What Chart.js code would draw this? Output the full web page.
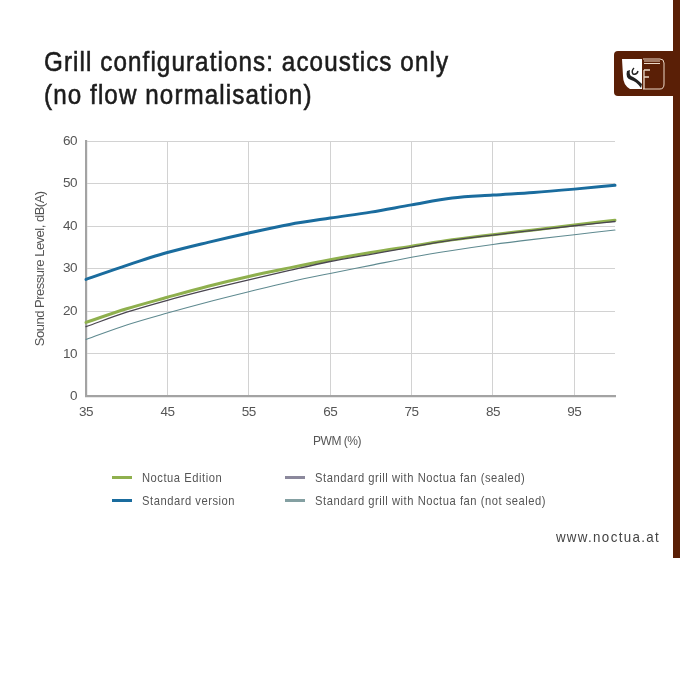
<!DOCTYPE html>
<html>
<head>
<meta charset="utf-8">
<script src="https://cdn.jsdelivr.net/npm/chart.js@4"></script>
<style>
html,body{margin:0;padding:0;background:#fff;width:680px;height:680px;overflow:hidden}
#wrap{position:relative;width:680px;height:680px;font-family:"Liberation Sans",sans-serif}
canvas{position:absolute;left:0;top:0}
#title{position:absolute;left:44px;top:44.5px;font-size:27.5px;line-height:33px;color:#1c1c1c;letter-spacing:1.24px;-webkit-text-stroke:.6px #1c1c1c;white-space:nowrap;transform:scaleX(.88);transform-origin:0 0}
#site{position:absolute;right:20px;top:528px;font-size:15px;line-height:18px;color:#444;letter-spacing:1.5px;transform:scaleX(.89);transform-origin:100% 0}
#bar{position:absolute;left:673px;top:0;width:7px;height:558px;background:#5a1f06}
.lg{position:absolute;font-size:13px;line-height:16px;color:#555;letter-spacing:.62px;white-space:nowrap;transform:scaleX(.86);transform-origin:0 0}
.sw{position:absolute;width:20px;height:2.5px}
svg{position:absolute;left:614px;top:51px}
</style>
</head>
<body>
<div id="wrap">
<canvas id="c" width="680" height="680" style="width:680px;height:680px"></canvas>
<div id="title">Grill configurations: acoustics only<br>(no flow normalisation)</div>
<div id="site">www.noctua.at</div>
<div id="bar"></div>
<svg width="60" height="46" viewBox="0 0 60 46">
<path d="M4 0H60V45H4Q0 45 0 41V4Q0 0 4 0Z" fill="#5a1f06"/>
<path d="M8 8H28V38H16Q9 34 9 25Z" fill="#fff"/>
<path d="M13 20Q11 27 17 29Q22 30 27 37L28 33Q22 27 17 25Q15 23 16 19Z" fill="#222"/>
<path d="M20 17Q17 20 19 23Q23 24 24 20" fill="none" stroke="#222" stroke-width="1.4"/>
<path d="M29 8H46Q50 8 50 12V33Q50 38 46 38H29" fill="none" stroke="#ecd9c8" stroke-width="1"/>
<path d="M30 10H46M30 12.5H46" stroke="#ecd9c8" stroke-width="1"/>
<path d="M30 19H36M30 26H35M30 19V38" fill="none" stroke="#ecd9c8" stroke-width="1.3"/>
</svg>
<div id="legend"></div>
</div>
<script>
const pwm = [35,40,45,50,55,60,65,70,75,80,85,90,95,100];
const xTicks = [35,45,55,65,75,85,95];
const yTicks = [0,10,20,30,40,50,60];
const noctuaEdition = [17.4,20.6,23.3,25.9,28.2,30.2,32.1,33.8,35.3,36.8,38.0,39.1,40.3,41.4];
const standardVersion = [27.5,30.8,33.8,36.2,38.4,40.4,41.9,43.3,45.0,46.6,47.3,47.9,48.7,49.6];
const sealed = [16.4,19.8,22.6,25.1,27.4,29.6,31.7,33.4,35.1,36.7,37.9,39.0,40.1,41.1];
const notSealed = [13.4,16.8,19.6,22.2,24.6,26.9,28.9,30.8,32.7,34.3,35.7,36.9,38.0,39.1];
const seriesNames = ["Noctua Edition","Standard version","Standard grill with Noctua fan (sealed)","Standard grill with Noctua fan (not sealed)"];
const lineColors = ["#8fb04e","#1a6c9e","#4a4650","#5f8a90"];
const legendColors = ["#8fb04e","#1a6c9e","#8b889c","#84a0a2"];
const lineWidths = [3,3,1.3,1.1];
const legendPos = [[112,470],[112,493],[285,470],[285,493]];

const toPts = a => a.map((y,i)=>({x:pwm[i],y}));
const makeDs = (a,i)=>({label:seriesNames[i],data:toPts(a),borderColor:lineColors[i],borderWidth:lineWidths[i],
  pointRadius:0,cubicInterpolationMode:'monotone',borderCapStyle:'round',clip:false});
const fontFam = '"Liberation Sans",sans-serif';
const ds = [makeDs(noctuaEdition,0),makeDs(standardVersion,1),makeDs(sealed,2),makeDs(notSealed,3)];
ds[0].order=3; ds[1].order=2; ds[2].order=1; ds[3].order=0;

// narrows the axis text (no condensed face is installed) and moves the x title left of the plot centre
const axisText = {
  id:'axisText',
  beforeDraw(chart){
    chart.ctx.letterSpacing='-0.5px';
    const sx=chart.scales.x;
    if(!sx._wrapped){
      const orig=sx.drawTitle.bind(sx);
      sx.drawTitle=function(){const c=this.ctx;c.save();c.translate(-13.5,0);orig();c.restore();};
      sx._wrapped=true;
    }
  }
};

new Chart(document.getElementById('c'),{
  type:'line',
  data:{datasets:ds},
  plugins:[axisText],
  options:{
    responsive:false,animation:false,devicePixelRatio:1,
    layout:{padding:{left:28,top:141,right:65,bottom:229.5}},
    plugins:{legend:{display:false},tooltip:{enabled:false}},
    scales:{
      x:{type:'linear',min:35,max:100,
        afterBuildTicks:s=>{s.ticks=xTicks.map(v=>({value:v}));},
        afterFit:s=>{s.height=54;},
        grid:{color:'#d2d2d2',lineWidth:1,drawTicks:false},
        border:{color:'#a3a3a3',width:2.2},
        ticks:{color:'#555',padding:8,autoSkip:false,maxRotation:0,font:{family:fontFam,size:13.5}},
        title:{display:true,text:'PWM (%)',color:'#555',padding:{top:0,bottom:2},font:{family:fontFam,size:12}}
      },
      y:{min:0,max:60,
        afterBuildTicks:s=>{s.ticks=yTicks.map(v=>({value:v}));},
        afterFit:s=>{s.width=58;},
        grid:{color:'#d2d2d2',lineWidth:1,drawTicks:false},
        border:{color:'#a3a3a3',width:2.2},
        ticks:{color:'#555',padding:9,font:{family:fontFam,size:13.5}},
        title:{display:true,text:'Sound Pressure Level, dB(A)',color:'#555',padding:{top:5,bottom:0},font:{family:fontFam,size:13}}
      }
    }
  }
});

const lg=document.getElementById('legend');
seriesNames.forEach((n,i)=>{
  const [x,y]=legendPos[i];
  const s=document.createElement('div');s.className='sw';s.style.cssText=`left:${x}px;top:${y+6}px;background:${legendColors[i]}`;
  const t=document.createElement('div');t.className='lg';t.style.cssText=`left:${x+30}px;top:${y}px`;t.textContent=n;
  lg.append(s,t);
});
</script>
</body>
</html>
